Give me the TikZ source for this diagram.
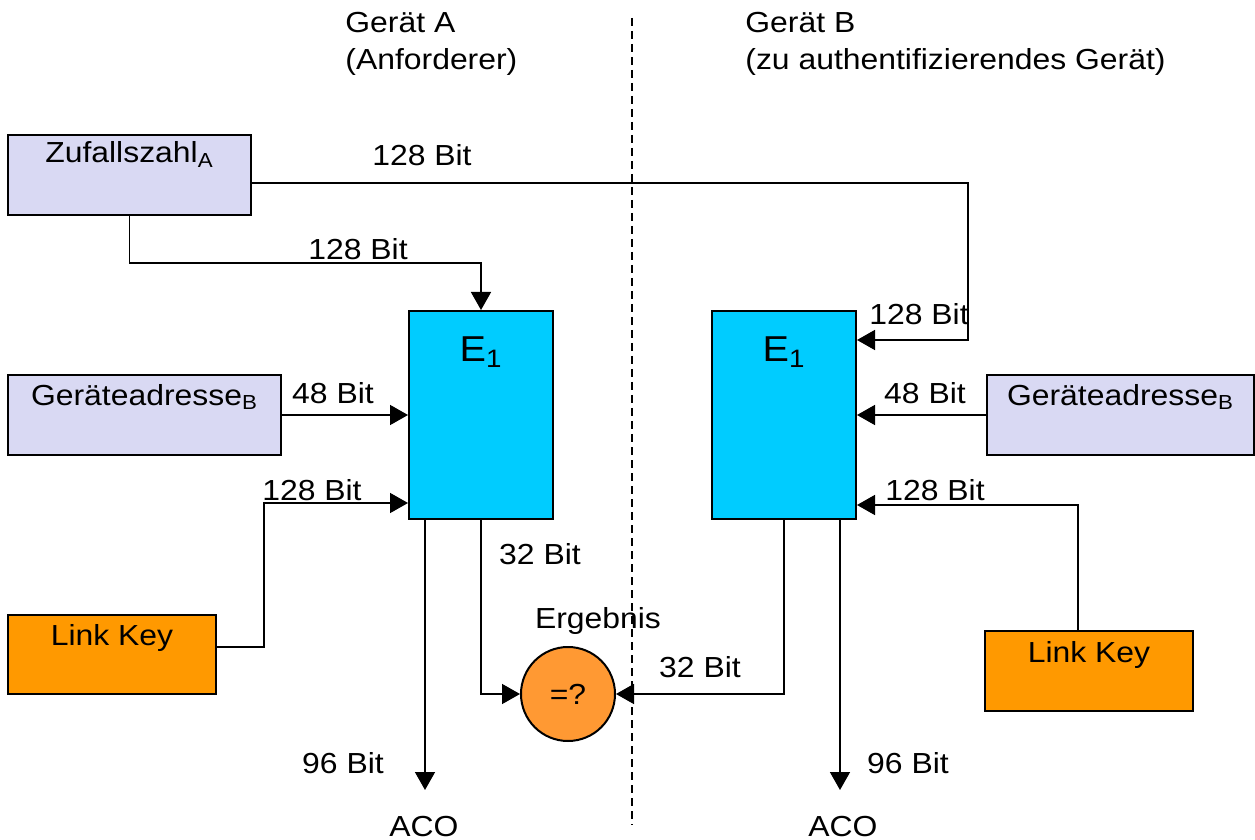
\documentclass[tikz,border=0pt]{standalone}
\usepackage{fontspec}
\setmainfont{Liberation Sans}[FakeStretch=1.1]
\usetikzlibrary{arrows.meta}

\definecolor{lavbox}{RGB}{217,217,243}
\definecolor{cyanbox}{RGB}{0,204,255}
\definecolor{keybox}{RGB}{255,153,0}
\definecolor{cmpfill}{RGB}{255,153,51}

\begin{document}
\begin{tikzpicture}[x=0.5pt,y=-0.5pt]
	\tikzstyle{every node}+=[inner sep=0pt, font=\fontsize{14.5}{18.5}\selectfont]
	\tikzstyle{blk}=[draw, line width=1pt, rectangle]
	\tikzstyle{lbl}=[anchor=base]
	\tikzstyle{arr}=[line width=0.8pt, -{Triangle[length=9pt,width=10pt]}]
	\useasboundingbox (0,0) rectangle (1255,840);
	% separation line
	\draw [line width=0.7pt, dash pattern=on 4pt off 2.5pt] (632,18) -- (632,825);
	\node (devA) [anchor=north west, align=left] at (345,12) {Gerät A\\(Anforderer)};
	\node (devB) [anchor=north west, align=left] at (745,12) {Gerät B\\(zu authentifizierendes Gerät)};
	% blocks
	\node (zA) [blk, fill=lavbox, minimum width=243*0.5pt, text height=14pt, text depth=26pt] at (129.5,175) {Zufallszahl\textsubscript{A}};
	\node (gaA) [blk, fill=lavbox, minimum width=273*0.5pt, text height=15pt, text depth=25pt] at (144.5,415) {Geräteadresse\textsubscript{B}};
	\node (lkA) [blk, fill=keybox, minimum width=208*0.5pt, text height=15pt, text depth=24.5pt] at (112,654.5) {Link Key};
	\node (e1a) [blk, fill=cyanbox, minimum width=144*0.5pt, text height=25.5pt, text depth=78.5pt, font=\fontsize{18}{20}\selectfont] at (481,415) {E\textsubscript{1}};
	\node (e1b) [blk, fill=cyanbox, minimum width=144*0.5pt, text height=25.5pt, text depth=78.5pt, font=\fontsize{18}{20}\selectfont] at (784,415) {E\textsubscript{1}};
	\node (gaB) [blk, fill=lavbox, minimum width=267*0.5pt, text height=15pt, text depth=25pt] at (1120.5,415) {Geräteadresse\textsubscript{B}};
	\node (lkB) [blk, fill=keybox, minimum width=208*0.5pt, text height=15.5pt, text depth=24.5pt] at (1089,671) {Link Key};
	\node (cmp) [draw, line width=1pt, circle, fill=cmpfill, minimum size=94*0.5pt] at (568,694) {=?};
	% bends
	\coordinate (kR) at (968,340);
	\coordinate (kA) at (129.5,263);
	\coordinate (kL) at (264,503);
	\coordinate (kD) at (1078,505);
	\coordinate (oA) at (425,790);
	\coordinate (oB) at (840,790);
	% connectors
	\draw [arr] ([yshift=-4pt]zA.east) -| (kR) -- (kR -| e1b.east);
	\draw [arr] (zA.south) -- (kA) -| (e1a.north);
	\draw [arr] (gaA.east) -- (e1a.west);
	\draw [arr] ([yshift=3.75pt]lkA.east) -| (kL) -- (kL -| e1a.west);
	\draw [arr] (oA |- e1a.south) -- (oA);
	\draw [arr] (e1a.south) |- (cmp.west);
	\draw [arr] (e1b.south) |- (cmp.east);
	\draw [arr] (oB |- e1b.south) -- (oB);
	\draw [arr] (gaB.west) -- (e1b.east);
	\draw [arr] (kD |- lkB.north) -- (kD) -- (kD -| e1b.east);
	% labels
	\node (l1) [lbl] at (422,166) {128 Bit};
	\node (l2) [lbl] at (358,260) {128 Bit};
	\node (l3) [lbl] at (919,324) {128 Bit};
	\node (l4) [lbl] at (333,403) {48 Bit};
	\node (l5) [lbl] at (312,500) {128 Bit};
	\node (l6) [lbl] at (925,403) {48 Bit};
	\node (l7) [lbl] at (935,500) {128 Bit};
	\node (l8) [lbl] at (540,564) {32 Bit};
	\node (l9) [lbl] at (598,628) {Ergebnis};
	\node (l10) [lbl] at (700,677) {32 Bit};
	\node (l11) [lbl] at (343,773) {96 Bit};
	\node (l12) [lbl] at (908,773) {96 Bit};
	\node (acoA) [lbl] at (424,836) {ACO};
	\node (acoB) [lbl] at (843,836) {ACO};
\end{tikzpicture}
\end{document}
